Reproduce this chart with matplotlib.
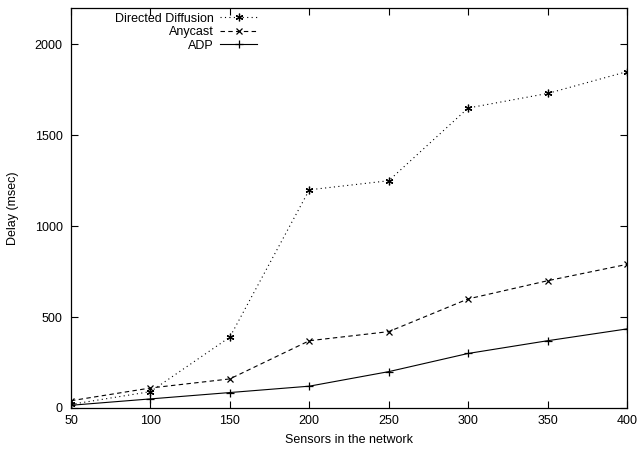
import matplotlib
matplotlib.use("Agg")
import matplotlib.pyplot as plt

plt.rcParams['font.family'] = ['Liberation Sans', 'DejaVu Sans']

sensors = [50, 100, 150, 200, 250, 300, 350, 400]
directed_diffusion = [20, 90, 390, 1200, 1250, 1650, 1730, 1850]
anycast = [40, 110, 160, 370, 420, 600, 700, 790]
adp = [15, 50, 85, 120, 200, 300, 370, 435]

fig = plt.figure(figsize=(6.37, 4.5), dpi=100)
ax = fig.add_axes([71/637, 42/450, (627-71)/637, (408-8)/450])

lw = 0.8
ax.plot(sensors, directed_diffusion, color='black', linestyle=(0, (1, 3)), linewidth=lw,
        marker=(6, 2, 0), markersize=5.5, markeredgewidth=0.9, label='Directed Diffusion')
ax.plot(sensors, anycast, color='black', linestyle=(0, (4, 3)), linewidth=lw,
        marker='x', markersize=4.5, markeredgewidth=0.9, label='Anycast')
ax.plot(sensors, adp, color='black', linestyle='-', linewidth=lw,
        marker='+', markersize=5.5, markeredgewidth=0.9, label='ADP')

ax.set_xlim(50, 400)
ax.set_ylim(0, 2200)
ax.set_xticks([50, 100, 150, 200, 250, 300, 350, 400])
ax.set_yticks([0, 500, 1000, 1500, 2000])
ax.tick_params(direction='in', top=True, right=True, length=5, width=0.8, labelsize=9)
ax.tick_params(axis='x', pad=5)
ax.tick_params(axis='y', pad=6)
for s in ax.spines.values():
    s.set_linewidth(0.9)

ax.set_xlabel('Sensors in the network', fontsize=9, labelpad=5)
ax.set_ylabel('Delay (msec)', fontsize=9, labelpad=11)

leg = ax.legend(loc='upper left', bbox_to_anchor=(0.063, 1.01), frameon=False, markerfirst=False,
                fontsize=9, handlelength=3.0, handletextpad=0.5, labelspacing=0.12,
                borderaxespad=0.3)
for t in leg.get_texts():
    t.set_horizontalalignment('right')
leg._legend_box.align = 'right'

fig.savefig('out.png', dpi=100)
